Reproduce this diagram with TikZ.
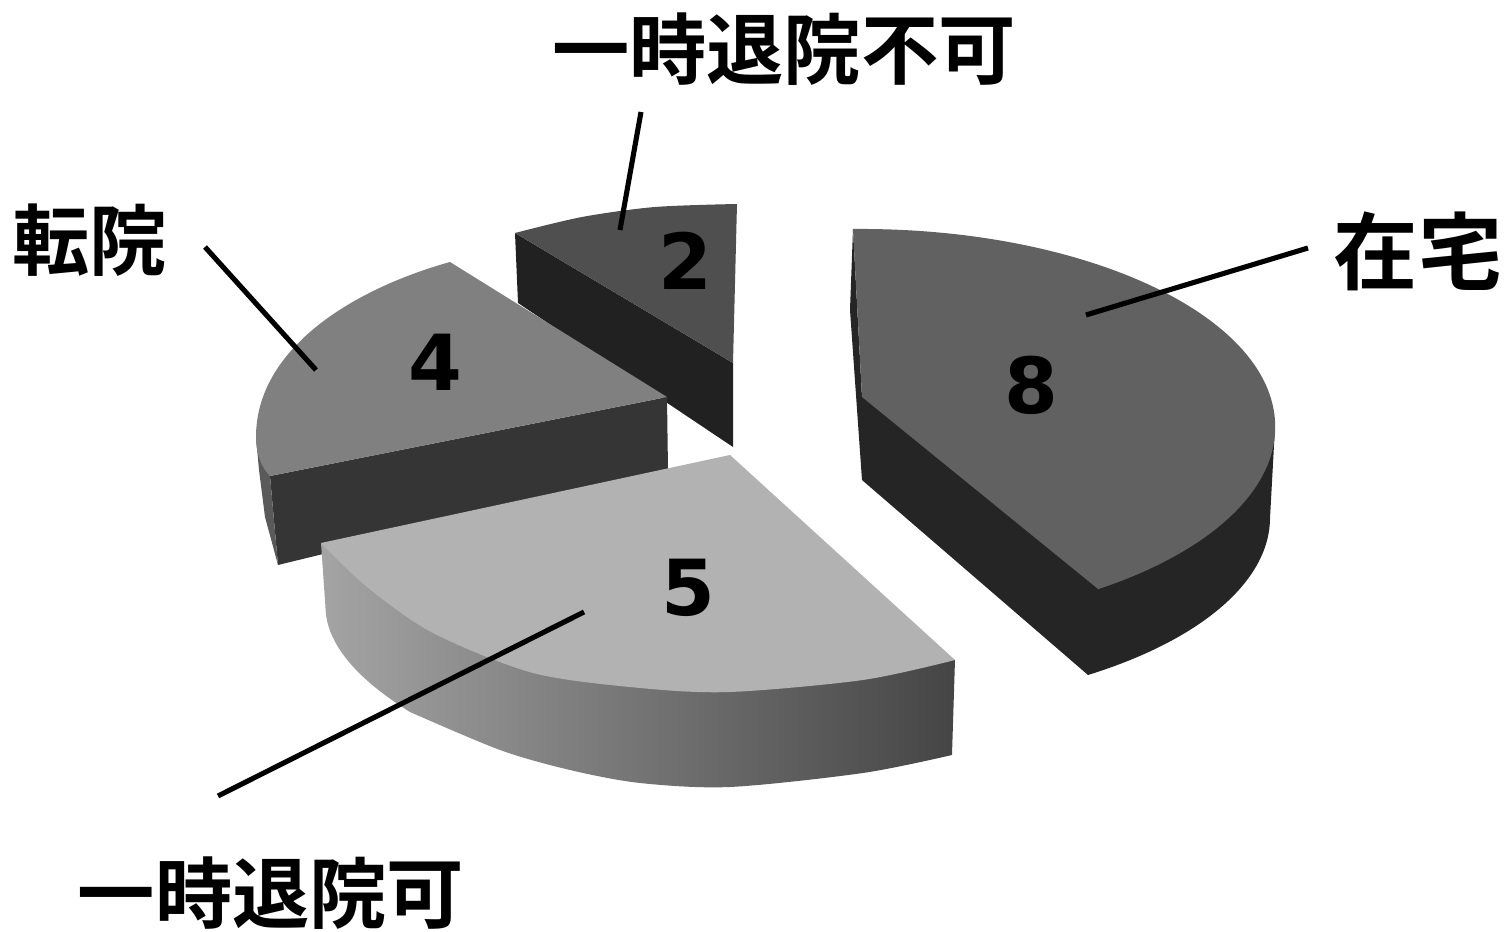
\documentclass[tikz,border=0pt]{standalone}
\usepackage{fontspec}
\usepackage{tikz}
\newfontfamily\jpfont{Noto Sans CJK JP Bold}
\newfontfamily\numfont{DejaVu Sans Bold}

\definecolor{homeTop}{HTML}{616161}
\definecolor{homeSide}{HTML}{252525}
\definecolor{okTop}{HTML}{B2B2B2}
\definecolor{okSideL}{HTML}{A4A4A4}
\definecolor{okSideR}{HTML}{454545}
\definecolor{moveTop}{HTML}{808080}
\definecolor{moveSide}{HTML}{353535}
\definecolor{moveRim}{HTML}{5A5A5A}
\definecolor{notokTop}{HTML}{4F4F4F}
\definecolor{notokSide}{HTML}{212121}

\tikzset{
	catlabel/.style={inner sep=0pt,font=\jpfont\fontsize{22}{26}\selectfont},
	value/.style={inner sep=0pt,font=\numfont\fontsize{22}{26}\selectfont},
	leader/.style={line width=1.45pt}
}

\begin{document}
\begin{tikzpicture}[x=0.1mm,y=-0.1mm]
		\useasboundingbox (0,0) rectangle (1510,932);
%		\draw[help lines,step=100] (0,0) grid (1510,932);
		\path (641,112) coordinate (notok_a);
		\path (620,230) coordinate (notok_b);
		\path (205,247) coordinate (move_a);
		\path (316,370) coordinate (move_b);
		\path (1308,248) coordinate (home_a);
		\path (1086,315) coordinate (home_b);
		\path (218,796) coordinate (ok_a);
		\path (584,612) coordinate (ok_b);

		% slice 2 (back)
		\fill[notokSide] (515,233) -- (518,303) -- (733,447) -- (733,363) -- cycle;
		\fill[notokTop] (515,233) -- (733,363) -- (737,204)
			-- plot[smooth] coordinates {(737,204) (655,207) (582,217) (515,233)} -- cycle;

		% slice 4
		\fill[moveSide] (270,476) -- (667,397) -- (668,470) -- (278,565) -- cycle;
		\fill[moveRim] (256,437) -- (259,470) -- (265,517) -- (278,565) -- (270,476) -- cycle;
		\fill[moveTop] (450,262) -- (667,397) -- (270,476)
			.. controls (262,468) and (256,455) .. (256,437)
			.. controls (256,350) and (350,290) .. (450,262) -- cycle;

		% slice 8
		\fill[homeSide] (853,229) -- (850,310) -- (862,480) -- (1088,675)
			arc[start angle=56,end angle=0,x radius=413,y radius=190] -- (1275,427) -- (862,397) -- cycle;
		\fill[homeTop] (862,397) -- (853,229)
			arc[start angle=-91,end angle=55,x radius=415,y radius=198] -- cycle;

		% slice 5 (front)
		\shade[left color=okSideL,right color=okSideR] (321,543) -- (326,615)
			.. controls (331,650) and (362,682) .. (410,712)
			-- plot[smooth] coordinates {(410,712) (500,750) (570,770) (640,783) (730,787) (863,773) (952,755)} -- (955,660) -- cycle;
		\fill[okTop] (321,543) -- (730,455) -- (955,660)
			-- plot[smooth] coordinates {(955,660) (863,680) (730,692) (640,688) (533,673) (433,633) (367,587) (321,543)} -- cycle;

		\path (685,261) node[value] (v_notok) {2};
		\path (435,362) node[value] (v_move) {4};
		\path (1031,385) node[value] (v_home) {8};
		\path (688,588) node[value] (v_ok) {5};

		\path (784,49) node[catlabel] (l_notok) {一時退院不可};
		\path (90,240) node[catlabel] (l_move) {転院};
		\path (1418,251) node[catlabel,font=\jpfont\fontsize{24}{28}\selectfont] (l_home) {在宅};
		\path (271,893) node[catlabel] (l_ok) {一時退院可};

		\draw[leader] (notok_a) -- (notok_b);
		\draw[leader] (move_a) -- (move_b);
		\draw[leader] (home_a) -- (home_b);
		\draw[leader] (ok_a) -- (ok_b);
	\end{tikzpicture}
\end{document}
